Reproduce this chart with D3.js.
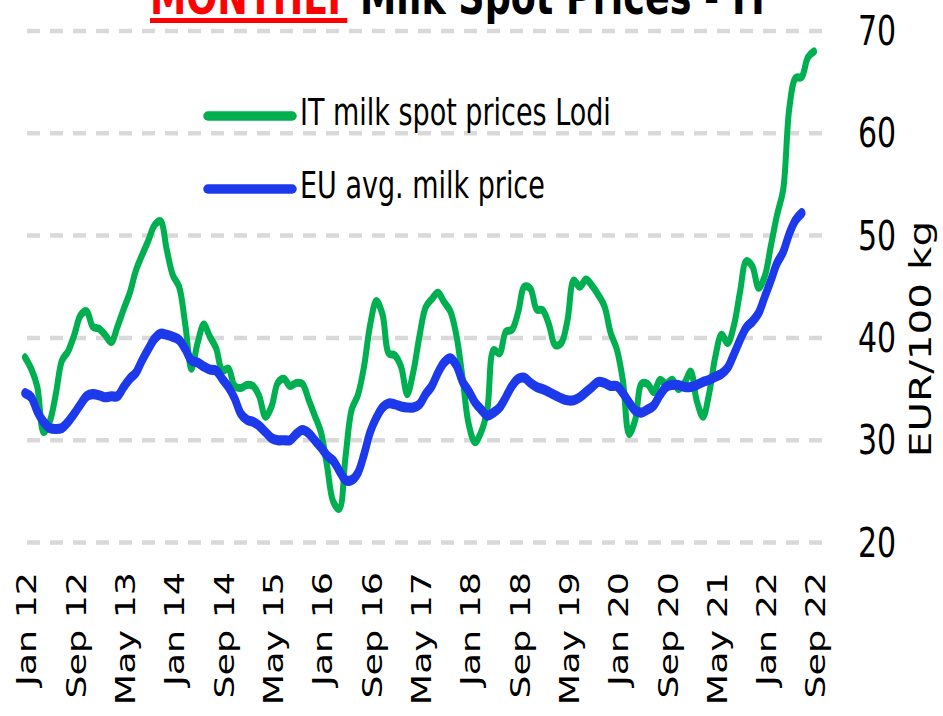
<!DOCTYPE html>
<html>
<head>
<meta charset="utf-8">
<script src="https://cdn.jsdelivr.net/npm/d3@7"></script>
<style>
    body { margin: 0; background: #fff; }
    text { font-family: "DejaVu Sans", Verdana, sans-serif; }
</style>
</head>
<body>
<svg id="chart" width="943" height="716"></svg>
<script>
// Monthly values from Jan 2012, EUR/100 kg
const itSpotPrices = [
    38.1, 37.0, 35.2, 30.8, 31.8, 34.5, 37.8, 38.7, 40.3, 42.2, 42.6, 41.1,
    40.9, 40.3, 39.6, 41.1, 42.8, 44.4, 46.6, 48.1, 49.5, 51.0, 51.4, 48.6,
    46.1, 45.0, 41.3, 37.0, 39.5, 41.3, 40.1, 39.0, 36.8, 37.0, 35.3, 35.1,
    35.4, 35.3, 34.3, 32.3, 33.3, 35.6, 36.0, 35.3, 35.6, 35.5, 34.0, 32.4,
    30.8, 27.5, 24.0, 23.3, 28.4, 33.0, 34.4, 37.2, 41.3, 43.6, 42.3, 38.5,
    38.3, 37.2, 34.5, 36.7, 40.2, 43.0, 43.8, 44.4, 43.5, 42.6, 40.2, 36.0,
    31.5, 29.8, 30.8, 33.0, 38.8, 38.5, 40.6, 40.8, 42.5, 45.0, 44.8, 42.8,
    42.7, 41.3, 39.3, 39.5, 41.7, 45.6, 45.0, 45.7, 45.1, 44.2, 43.1, 40.5,
    38.9, 35.8, 30.6, 32.0, 35.5, 35.5, 34.7, 35.9, 35.5, 35.9, 35.0, 35.6,
    36.7, 33.8, 32.3, 34.6, 38.2, 40.3, 39.5, 41.2, 44.5, 47.5, 47.0, 44.9,
    46.0, 49.0, 52.0, 54.5, 62.5, 65.4, 65.5, 67.4, 68.0
];

const euAvgPrices = [
    34.6, 34.2, 32.8, 31.8, 31.2, 31.1, 31.2, 31.8, 32.6, 33.5, 34.3, 34.5,
    34.4, 34.2, 34.3, 34.3, 35.2, 36.0, 36.6, 37.8, 38.9, 39.9, 40.4, 40.3,
    40.1, 39.8, 38.9, 37.8, 37.6, 37.2, 36.9, 36.8, 36.0, 35.2, 34.1, 32.6,
    32.0, 31.8, 31.4, 30.8, 30.2, 30.0, 30.0, 30.0, 30.6, 31.0, 30.7, 30.0,
    29.3, 28.5, 28.0, 27.0, 26.1, 26.1, 26.8, 28.6, 30.8, 32.2, 33.2, 33.6,
    33.5, 33.3, 33.2, 33.2, 33.5, 34.5, 35.3, 36.6, 37.6, 38.0, 37.3, 35.7,
    34.8, 33.7, 33.0, 32.4, 32.7, 33.2, 34.2, 35.3, 36.0, 36.1, 35.6, 35.2,
    35.0, 34.7, 34.4, 34.1, 33.9, 33.9, 34.2, 34.7, 35.2, 35.7, 35.6, 35.3,
    35.3, 34.6, 33.7, 32.9, 32.7, 33.0, 33.4, 34.4, 35.2, 35.4, 35.4, 35.2,
    35.2, 35.4, 35.7, 35.9, 36.2, 36.5, 37.1, 38.4, 39.8, 41.0, 41.6, 42.4,
    44.0, 45.6, 47.3, 48.4, 50.2, 51.5, 52.2
];

const tickLabels = [
    "Jan 12", "Sep 12", "May 13", "Jan 14", "Sep 14", "May 15", "Jan 16", "Sep 16",
    "May 17", "Jan 18", "Sep 18", "May 19", "Jan 20", "Sep 20", "May 21", "Jan 22", "Sep 22"
];
const tickStep = 8; // months between labels
const yTicks = [20, 30, 40, 50, 60, 70];

const seriesNames = ["IT milk spot prices Lodi", "EU avg. milk price"];
const seriesColours = ["#00b050", "#1c3aeb"];

// the original picture is stretched vertically, so text and strokes are too
const STRETCH = 1.35;

const svg = d3.select("#chart");

const x = d3.scaleLinear().domain([0, 128]).range([25, 814]);
const y = d3.scaleLinear().domain([20, 70]).range([542.5, 31]);

// Gridlines
svg.append("g")
    .selectAll("line")
    .data(yTicks)
    .enter()
    .append("line")
    .attr("x1", 27)
    .attr("x2", 826)
    .attr("y1", d => y(d))
    .attr("y2", d => y(d))
    .attr("stroke", "#d9d9d9")
    .attr("stroke-width", 4.5)
    .attr("stroke-dasharray", "13 10");

// Y tick labels on the right
svg.append("g")
    .selectAll("text")
    .data(yTicks)
    .enter()
    .append("text")
    .attr("transform", d => `translate(858, ${y(d) + 14}) scale(1, 1.38)`)
    .style("font-size", "30px")
    .attr("fill", "#000")
    .text(d => d);

// Axis title
svg.append("text")
    .attr("transform", `translate(931, 339) rotate(-90) scale(${STRETCH}, 1)`)
    .attr("text-anchor", "middle")
    .style("font-size", "30px")
    .text("EUR/100 kg");

// X tick labels
svg.append("g")
    .selectAll("text")
    .data(tickLabels)
    .enter()
    .append("text")
    .attr("transform", (d, i) => `translate(${x(i * tickStep) + 2}, 572) rotate(-90) scale(${STRETCH}, 1)`)
    .attr("text-anchor", "end")
    .attr("dy", "0.35em")
    .style("font-size", "27px")
    .text(d => d);

// Lines, drawn in a stretched group so the strokes look like the original
const lineGroup = svg.append("g")
    .attr("transform", `scale(1, ${STRETCH})`);

const line = d3.line()
    .x((d, i) => x(i))
    .y(d => y(d) / STRETCH)
    .curve(d3.curveCatmullRom.alpha(0.5));

[itSpotPrices, euAvgPrices].forEach((values, i) => {
    lineGroup.append("path")
        .datum(values)
        .attr("d", line)
        .attr("fill", "none")
        .attr("stroke", seriesColours[i])
        .attr("stroke-width", i === 0 ? 6 : 7.5)
        .attr("stroke-linejoin", "round")
        .attr("stroke-linecap", "round");
});

// Legend
const legendRows = [116, 189];
seriesNames.forEach((name, i) => {
    svg.append("line")
        .attr("x1", 208)
        .attr("x2", 292)
        .attr("y1", legendRows[i])
        .attr("y2", legendRows[i])
        .attr("stroke", seriesColours[i])
        .attr("stroke-width", 9.5)
        .attr("stroke-linecap", "round");

    svg.append("text")
        .attr("transform", `translate(300, ${legendRows[i] + 9}) scale(1, 1.4)`)
        .style("font-size", "27px")
        .text(name);
});

// Title, mostly cut off at the top of the picture
const title = svg.append("text")
    .attr("transform", `translate(150, 14) scale(1, ${STRETCH})`)
    .style("font-size", "36.5px")
    .style("font-weight", "bold");

title.append("tspan")
    .attr("fill", "#ff0000")
    .text("MONTHLY");

title.append("tspan")
    .attr("fill", "#000")
    .text(" Milk Spot Prices - IT");

const monthlyWidth = title.select("tspan").node().getComputedTextLength();
svg.append("rect")
    .attr("x", 150)
    .attr("y", 18)
    .attr("width", monthlyWidth)
    .attr("height", 5)
    .attr("fill", "#ff0000");
</script>
</body>
</html>
